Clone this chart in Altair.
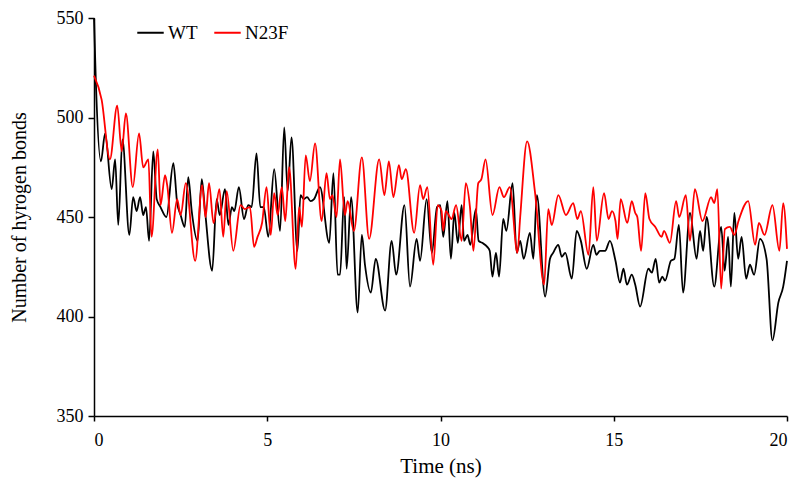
import altair as alt
import pandas as pd

# WT (black) series: time (ns) and number of hydrogen bonds
wt_t = [0.00, 0.05, 0.20, 0.32, 0.51, 0.61, 0.70, 0.82, 1.02, 1.13, 1.23, 1.33, 1.42, 1.50, 1.59, 1.71, 1.81, 1.92,
        2.09, 2.29, 2.40, 2.50, 2.62, 2.72, 2.82, 2.99, 3.11, 3.20, 3.41, 3.54, 3.63, 3.78, 3.88, 3.98, 4.05, 4.18,
        4.33, 4.45, 4.55, 4.69, 4.80, 4.90, 5.03, 5.20, 5.37, 5.49, 5.59, 5.70, 5.87, 5.96, 6.05, 6.15, 6.25, 6.35,
        6.52, 6.79, 6.91, 7.03, 7.10, 7.22, 7.29, 7.42, 7.61, 7.73, 7.82, 7.99, 8.13, 8.40, 8.59, 8.72, 8.96, 9.12,
        9.31, 9.41, 9.60, 9.75, 9.90, 9.99, 10.08, 10.20, 10.30, 10.40, 10.50, 10.61, 10.68, 10.78, 10.86, 11.02,
        11.10, 11.20, 11.35, 11.42, 11.50, 11.60, 11.69, 11.81, 11.90, 12.08, 12.20, 12.30, 12.40, 12.58, 12.68,
        12.78, 13.02, 13.16, 13.25, 13.40, 13.50, 13.60, 13.79, 13.93, 14.05, 14.22, 14.41, 14.50, 14.60, 14.75,
        14.89, 15.05, 15.18, 15.28, 15.38, 15.52, 15.62, 15.76, 16.00, 16.10, 16.21, 16.31, 16.40, 16.48, 16.65,
        16.75, 16.88, 17.00, 17.20, 17.39, 17.49, 17.58, 17.68, 17.90, 18.10, 18.20, 18.30, 18.38, 18.48, 18.59,
        18.69, 18.82, 18.93, 19.05, 19.22, 19.41, 19.58, 19.75, 19.89, 20.00]
wt_v = [550, 520, 478, 492, 464, 479, 446, 489, 441, 460, 453, 460, 451, 455, 438, 483, 459, 455,
        450, 477, 457, 451, 445, 470, 453, 438, 469, 454, 423, 459, 451, 464, 446, 455, 453, 465,
        449, 456, 455, 482, 455, 455, 440, 474, 443, 495, 463, 490, 433, 461, 459, 460, 458, 459,
        465, 437, 472, 421, 421, 460, 424, 460, 402, 441, 426, 412, 429, 403, 438, 421, 456, 415,
        439, 428, 459, 432, 455, 456, 440, 458, 429, 452, 437, 456, 438, 441, 436, 454,
        438, 437, 435, 433, 420, 432, 420, 449, 443, 467, 432, 438, 429, 442, 429,
        461, 410, 429, 432, 436, 430, 432, 419, 443, 438, 424, 436, 431, 433, 433,
        438, 428, 417, 424, 416, 421, 416, 405, 424, 422, 429, 417, 420, 418, 428,
        429, 446, 412, 452, 429, 443, 433, 450, 415, 445, 423, 440, 415, 452, 429,
        440, 419, 426, 421, 439, 429, 388, 407, 415, 428]

# N23F (red) series
mut_t = [0.00, 0.22, 0.46, 0.67, 0.80, 0.92, 1.12, 1.30, 1.42, 1.57, 1.66, 1.84, 1.92, 2.05, 2.12, 2.25, 2.40, 2.50,
         2.65, 2.92, 3.12, 3.22, 3.32, 3.45, 3.62, 3.73, 3.83, 4.02, 4.23, 4.35, 4.50, 4.62, 4.72, 4.85, 4.98, 5.10,
         5.20, 5.30, 5.42, 5.52, 5.63, 5.82, 5.92, 6.00, 6.11, 6.23, 6.38, 6.57, 6.71, 6.81, 6.88, 7.00, 7.10, 7.24,
         7.32, 7.50, 7.73, 7.94, 8.23, 8.38, 8.51, 8.64, 8.80, 8.88, 9.00, 9.24, 9.41, 9.50, 9.62, 9.79, 9.92, 10.03,
         10.08, 10.15, 10.32, 10.45, 10.61, 10.73, 10.85, 10.95, 11.09, 11.18, 11.30, 11.50, 11.70, 11.83, 12.00,
         12.22, 12.30, 12.50, 12.73, 12.99, 13.11, 13.21, 13.40, 13.62, 13.83, 13.95, 14.05, 14.27, 14.41, 14.51,
         14.72, 14.85, 14.95, 15.05, 15.11, 15.20, 15.39, 15.52, 15.62, 15.68, 15.79, 15.91, 16.03, 16.20, 16.38,
         16.45, 16.62, 16.80, 16.89, 17.08, 17.20, 17.34, 17.56, 17.81, 17.90, 17.99, 18.10, 18.21, 18.35, 18.48,
         18.60, 18.88, 19.08, 19.19, 19.35, 19.58, 19.78, 19.89, 20.00]
mut_v = [521, 509, 479, 506, 483, 502, 465, 492, 475, 479, 440, 484, 456, 471, 465, 442, 459, 451,
         467, 428, 466, 450, 467, 447, 464, 440, 463, 433, 456, 454, 455, 435, 440, 447, 465, 441,
         462, 451, 465, 448, 475, 424, 455, 445, 481, 468, 487, 448, 472, 459, 461, 450, 479, 451,
         458, 443, 480, 439, 479, 461, 478, 460, 476, 469, 474, 442, 466, 459, 465, 426, 456, 453,
         443, 453, 449, 456, 438, 467, 455, 433, 467, 469, 479, 451, 465, 460, 465,
         432, 450, 488, 462, 416, 454, 446, 461, 451, 457, 449, 453, 431, 465, 438,
         462, 449, 453, 448, 439, 459, 447, 458, 452, 450, 433, 462, 449, 445, 440,
         443, 437, 458, 450, 461, 438, 464, 448, 460, 457, 464, 414, 444, 445, 441,
         448, 458, 436, 447, 441, 456, 433, 457, 434]

series_names = ["WT", "N23F"]
series_colors = ["#000000", "#ff0000"]

df = pd.concat([
    pd.DataFrame({"t": wt_t, "v": wt_v, "s": series_names[0], "o": 1}),
    pd.DataFrame({"t": mut_t, "v": mut_v, "s": series_names[1], "o": 0}),
])

FONT = "Liberation Serif"

chart = alt.Chart(df).mark_line(strokeWidth=1.8, interpolate="monotone").encode(
    x=alt.X("t:Q", scale=alt.Scale(domain=[0, 20], nice=False),
            axis=alt.Axis(title="Time (ns)", values=[0, 5, 10, 15, 20], format="d", grid=False,
                          tickSize=5, labelPadding=10, titlePadding=6)),
    y=alt.Y("v:Q", scale=alt.Scale(domain=[350, 550], nice=False, zero=False),
            axis=alt.Axis(title="Number of hyrogen bonds", values=[350, 400, 450, 500, 550], grid=False,
                          tickSize=6, labelPadding=5, titlePadding=27, titleFontSize=20)),
    color=alt.Color("s:N", scale=alt.Scale(domain=series_names, range=series_colors),
                    legend=alt.Legend(title=None, orient="none", legendX=42, legendY=0, direction="horizontal",
                                      symbolType="stroke", symbolSize=700, symbolStrokeWidth=2,
                                      labelFont=FONT, labelFontSize=19, labelColor="#000000",
                                      labelOffset=3, columnPadding=12)),
    detail="s:N",
    order="o:Q",
).properties(
    width=693, height=398,
    autosize=alt.AutoSizeParams(type="none"),
    padding={"left": 86, "top": 10, "right": 4, "bottom": 62},
).configure_view(stroke=None).configure_axis(
    domainColor="#000000", domainWidth=1.5, tickColor="#000000", tickWidth=1.5,
    labelFont=FONT, labelFontSize=18, labelColor="#000000",
    titleFont=FONT, titleFontSize=21, titleColor="#000000", titleFontWeight="normal",
)

chart.save("out.html", embed_options={"renderer": "svg", "actions": False})
